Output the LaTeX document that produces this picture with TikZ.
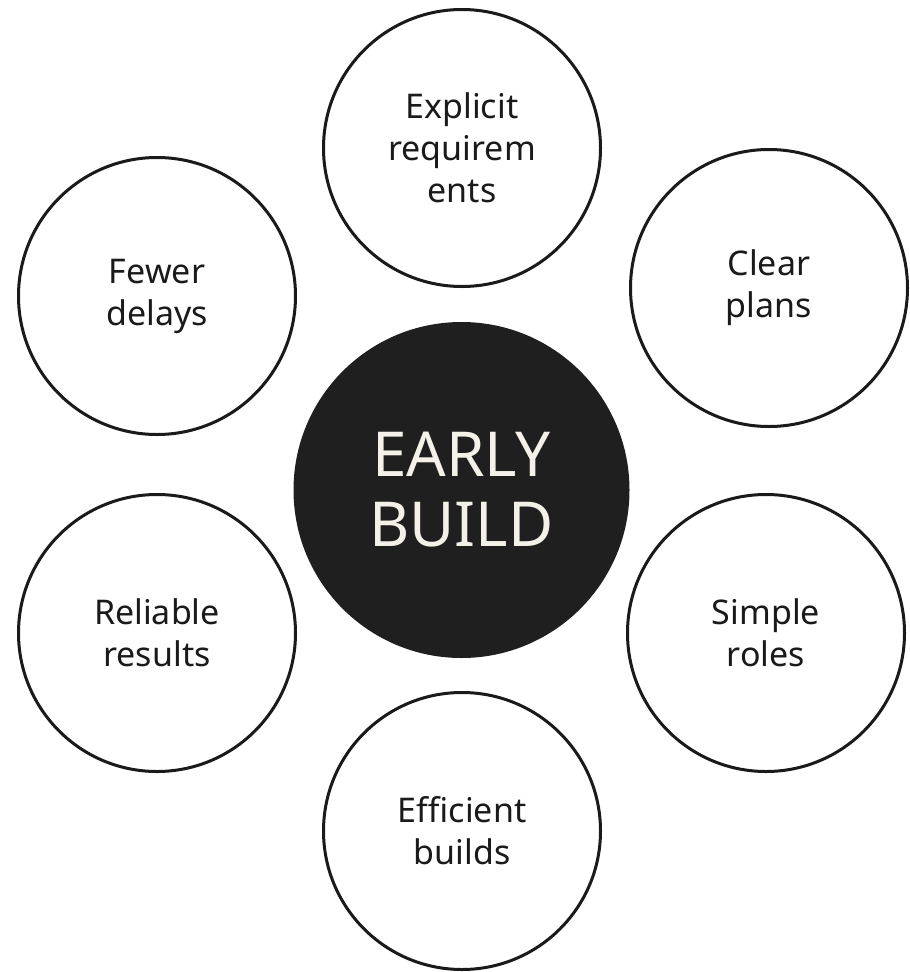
\documentclass[tikz,border=0pt]{standalone}
\usepackage{fontspec}
\setmainfont{Noto Sans}
\usepackage{tikz}
\definecolor{hubfill}{HTML}{1F1F1F}
\definecolor{hubtext}{HTML}{F4F2E8}
\definecolor{ringline}{HTML}{1A1A1A}
\tikzset{
    ring/.style={circle, draw=ringline, line width=3pt, fill=white, minimum size=277pt, inner sep=0pt, align=center, text=ringline, font=\fontsize{34}{42}\selectfont},
    hub/.style={circle, fill=hubfill, minimum size=336pt, inner sep=0pt, align=center, text=hubtext, font=\fontsize{62}{70}\selectfont}
}
\begin{document}
\begin{tikzpicture}[x=1pt, y=-1pt]
                    \useasboundingbox (0, 0) rectangle (910, 972);
                    \node[hub] (hub) at (461.5, 490) {EARLY\\BUILD};
                    \node[ring] (reqs) at (462, 148) {Explicit\\requirem\\ents};
                    \node[ring] (plans) at (769, 288) {Clear\\plans};
                    \node[ring] (roles) at (766, 633) {Simple\\roles};
                    \node[ring] (builds) at (462, 831) {Efficient\\builds};
                    \node[ring] (results) at (157, 633) {Reliable\\results};
                    \node[ring] (delays) at (157, 296) {Fewer\\delays};
                \end{tikzpicture}
\end{document}
